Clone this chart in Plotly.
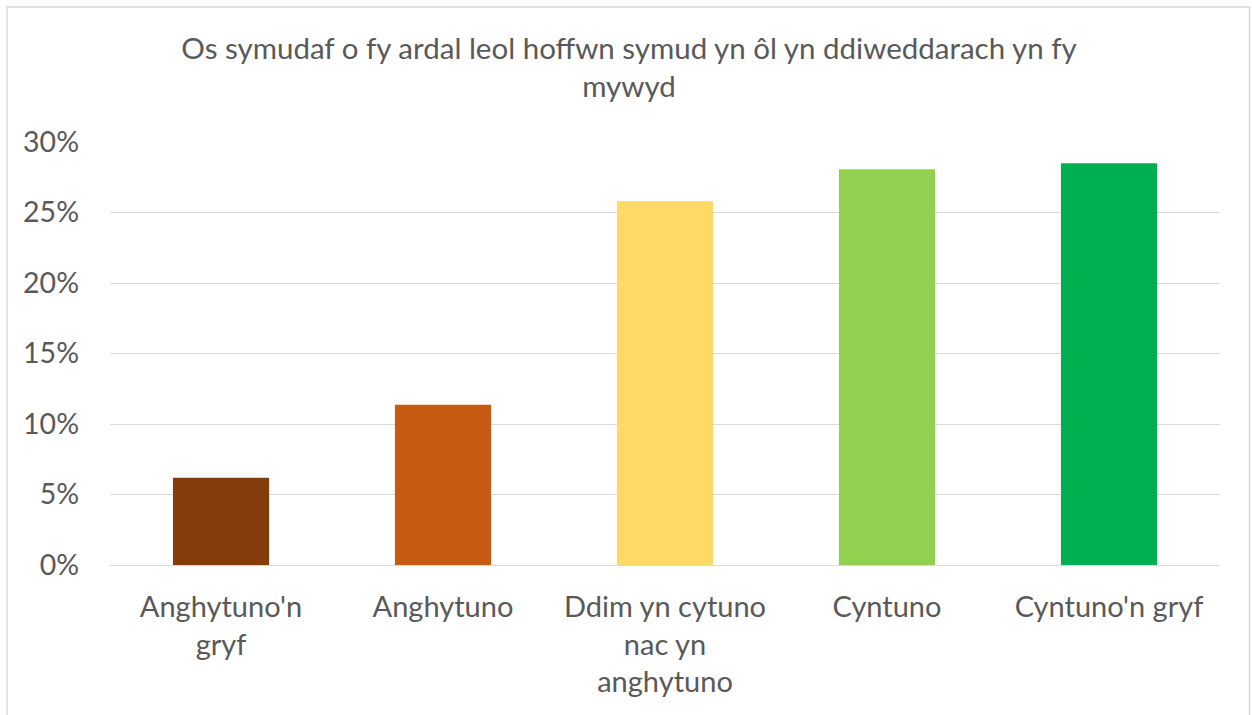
import plotly.graph_objects as go

# Survey responses (share of respondents)
categories = ["Anghytuno'n<br>gryf", "Anghytuno", "Ddim yn cytuno<br>nac yn<br>anghytuno",
              "Cyntuno", "Cyntuno'n gryf"]
shares = [0.0618, 0.1137, 0.2579, 0.2806, 0.2849]
bar_colors = ["#843C0C", "#C55A11", "#FFD966", "#92D050", "#00B050"]

tick_vals = [0, 0.05, 0.10, 0.15, 0.20, 0.25, 0.30]
tick_text = ["0%", "5%", "10%", "15%", "20%", "25%", "30%"]

title_text = "Os symudaf o fy ardal leol hoffwn symud yn ôl yn ddiweddarach yn fy<br>mywyd"

W, H = 1252, 715
L, R, T, B = 110, 32, 142, 150
pw, ph = W - L - R, H - T - B

fig = go.Figure(
    go.Bar(
        x=categories,
        y=shares,
        marker=dict(color=bar_colors, line=dict(width=0)),
        hoverinfo="skip",
    )
)

font_family = "Lato, 'Open Sans', sans-serif"

fig.update_layout(
    width=W,
    height=H,
    margin=dict(l=L, r=R, t=T, b=B),
    paper_bgcolor="white",
    plot_bgcolor="white",
    bargap=0.567,
    showlegend=False,
    font=dict(family=font_family, color="#595959"),
    title=dict(
        text=title_text,
        x=629 / W,
        xanchor="center",
        y=1 - 59 / H,
        yanchor="middle",
        font=dict(size=29.5, color="#595959", family=font_family),
    ),
)

fig.update_yaxes(
    range=[0, 0.30],
    tickvals=tick_vals,
    ticktext=tick_text,
    showgrid=True,
    gridcolor="#D9D9D9",
    gridwidth=1.3,
    zeroline=False,
    showline=False,
    tickfont=dict(size=28.5, color="#595959"),
    ticklabelstandoff=30,
    fixedrange=True,
)

fig.update_xaxes(
    showgrid=False,
    showline=True,
    linecolor="#D9D9D9",
    linewidth=1.3,
    tickfont=dict(size=29, color="#595959"),
    ticklabelstandoff=16,
    fixedrange=True,
)

# Light chart-area border
fig.add_shape(
    type="rect",
    xref="paper", yref="paper",
    x0=(7 - L) / pw, x1=(1249.5 - L) / pw,
    y0=-(B + 20) / ph, y1=1 + (T - 7) / ph,
    line=dict(color="#D9D9D9", width=1.5),
    fillcolor="rgba(0,0,0,0)",
    layer="below",
)

fig.write_html("out.html")
